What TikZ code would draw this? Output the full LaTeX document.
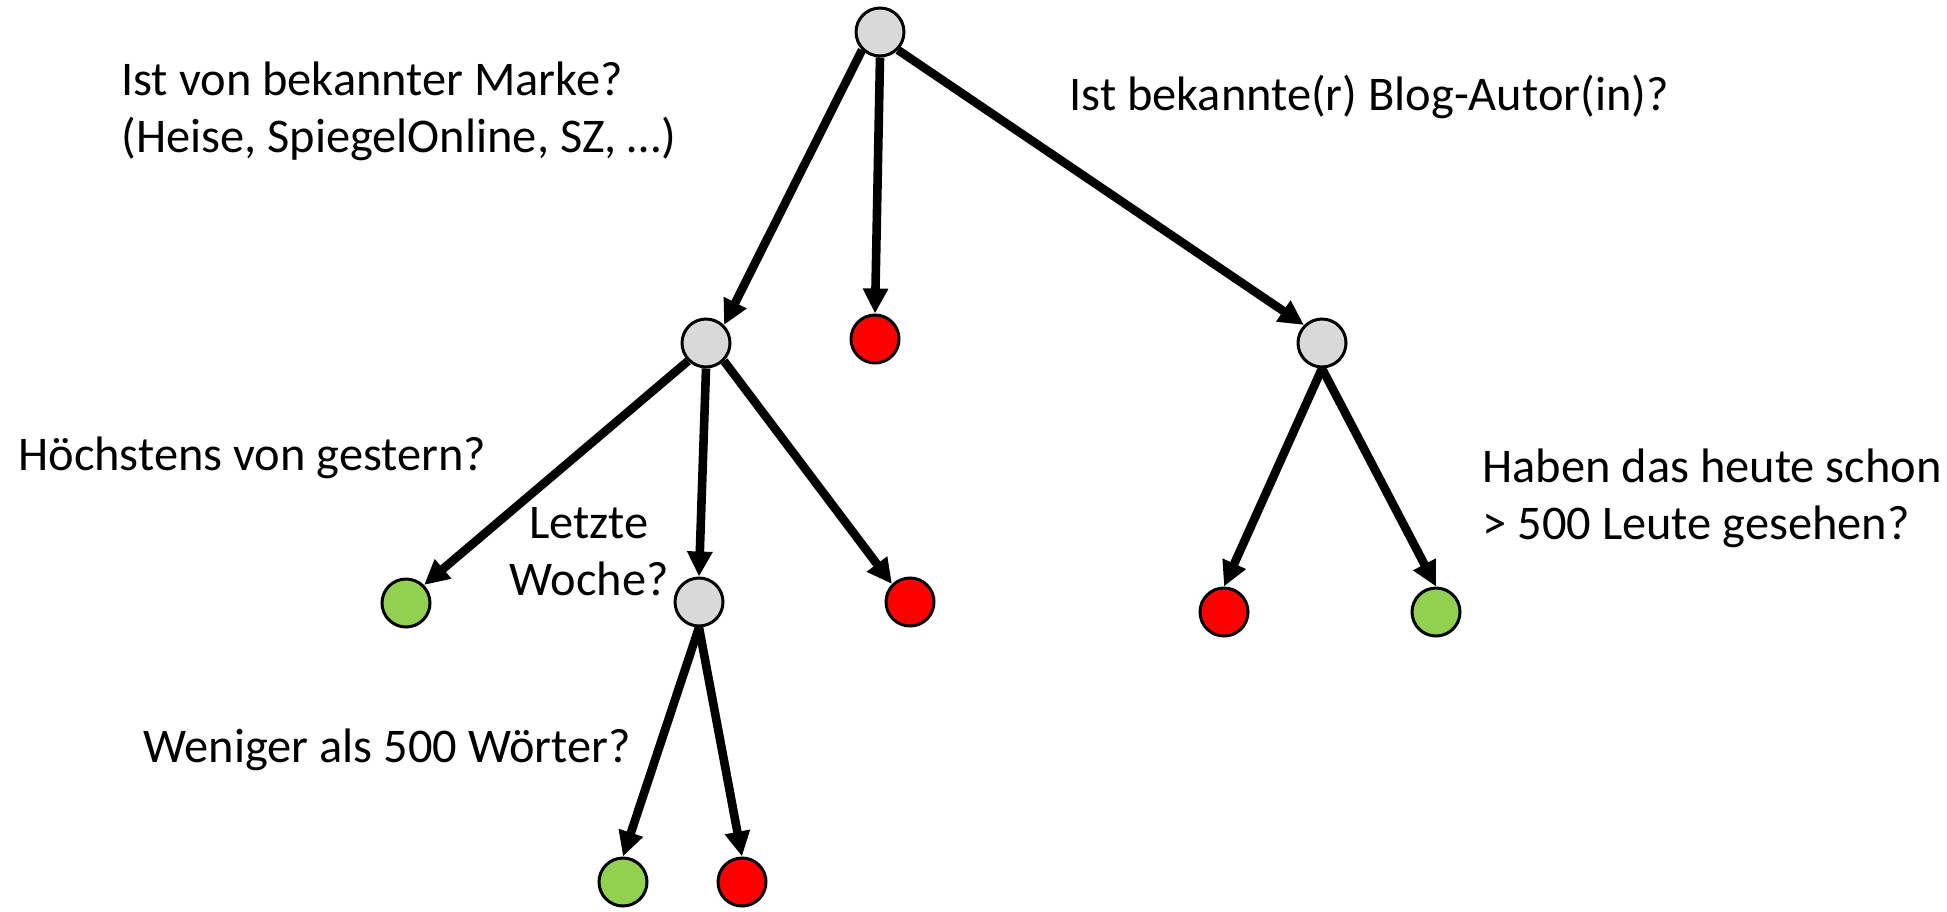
\documentclass[tikz,border=0pt]{standalone}
\usepackage{fontspec}
\setmainfont{Carlito}
\usetikzlibrary{arrows.meta}
\definecolor{ngray}{HTML}{D9D9D9}
\definecolor{nred}{HTML}{FF0000}
\definecolor{ngreen}{HTML}{92D050}
\begin{document}
\begin{tikzpicture}[x=0.5pt,y=-0.5pt,
  dot/.style={circle,draw=black,line width=1.5pt,minimum size=24pt,inner sep=0pt},
  qnode/.style={dot,fill=ngray},
  bad/.style={dot,fill=nred},
  good/.style={dot,fill=ngreen},
  edgearrow/.style={line width=4.3pt,-{Triangle[length=12.5pt,width=12pt]}},
  lbl/.style={font=\fontsize{24.2pt}{28.5pt}\selectfont,inner sep=0pt,align=left}]
\useasboundingbox (0,0) rectangle (1947,911);
% nodes
\node[qnode] (root) at (880,32) {};
\node[qnode] (a) at (706,343) {};
\node[bad] (b) at (875,339) {};
\node[qnode] (c) at (1322,343) {};
\node[good] (a1) at (406,603) {};
\node[qnode] (a2) at (699,602) {};
\node[bad] (a3) at (910,602) {};
\node[good] (a21) at (623,882) {};
\node[bad] (a22) at (742,882) {};
\node[bad] (c1) at (1224,612) {};
\node[good] (c2) at (1436,612) {};
% edges
\draw[edgearrow] (root.south west) -- (a.north east);
\draw[edgearrow] (root.south) -- (b.north);
\draw[edgearrow] (root.south east) -- (c.north west);
\draw[edgearrow] (a.south west) -- (a1.north east);
\draw[edgearrow] (a.south) -- (a2.north);
\draw[edgearrow] (a.south east) -- (a3.north west);
\draw[edgearrow] (a2.south) -- (a21.north);
\draw[edgearrow] (a2.south) -- (a22.north);
\draw[edgearrow] (c.south) -- (c1.north);
\draw[edgearrow] (c.south) -- (c2.north);
% labels (multi-line nodes: base = last line)
\node[lbl,anchor=base west] (q1) at (121,152) {Ist von bekannter Marke?\\(Heise, SpiegelOnline, SZ, …)};
\node[lbl,anchor=base west] (q2) at (1069,110) {Ist bekannte(r) Blog-Autor(in)?};
\node[lbl,anchor=base west] (q3) at (18,470) {Höchstens von gestern?};
\node[lbl,align=center,anchor=base] (q4) at (589,595) {Letzte\\Woche?};
\node[lbl,anchor=base west] (q5) at (143,762) {Weniger als 500 Wörter?};
\node[lbl,anchor=base west] (q6) at (1482,539) {Haben das heute schon\\> 500 Leute gesehen?};
\end{tikzpicture}
\end{document}
